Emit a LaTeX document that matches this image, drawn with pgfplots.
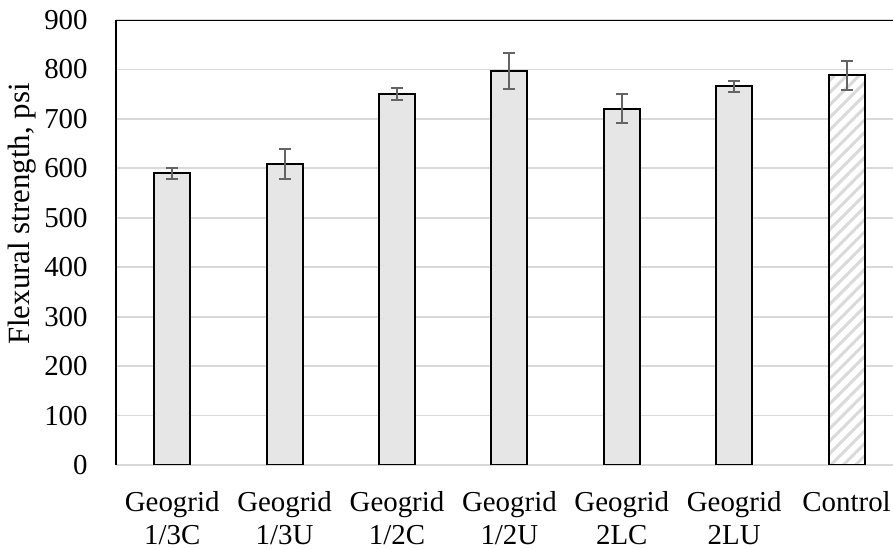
\documentclass[border=0pt]{standalone}
\usepackage{fontspec}
\setmainfont{Liberation Serif}
\usepackage{pgfplots}
\pgfplotsset{compat=1.18}
\usetikzlibrary{patterns.meta}
\definecolor{barfill}{RGB}{230,230,230}
\definecolor{gridc}{RGB}{217,217,217}
\definecolor{errc}{RGB}{100,100,100}
\definecolor{hatchc}{RGB}{218,218,218}
\begin{document}
\begin{tikzpicture}
\useasboundingbox (0,0) rectangle (446.5bp,274.5bp);
\begin{axis}[
  at={(58bp,42bp)}, anchor=south west,
  width=388.5bp, height=222.5bp, scale only axis,
  xmin=-0.5, xmax=6.413, ymin=0, ymax=900,
  ybar, bar width=18bp, bar shift=0pt,
  axis x line*=bottom, axis y line*=left,
  x axis line style={draw=gridc, line width=0.9bp, -},
  y axis line style={draw=black, line width=1bp, -},
  ytick distance=100,
  xtick={0,1,2,3,4,5,6},
  xticklabels={{Geogrid\\1/3C},{Geogrid\\1/3U},{Geogrid\\1/2C},{Geogrid\\1/2U},{Geogrid\\2LC},{Geogrid\\2LU},{Control}},
  major tick length=0pt,
  ymajorgrids, grid style={draw=gridc, line width=0.9bp},
  /pgf/number format/assume math mode=true,
  tick label style={font=\fontsize{14.5}{16.5}\selectfont},
  yticklabel style={inner sep=0pt, xshift=-14bp},
  xticklabel style={align=center, inner sep=0pt, anchor=north, yshift=-13bp},
  ylabel={Flexural strength, psi},
  ylabel style={font=\fontsize{15.5}{17}\selectfont, at={([xshift=-47bp]rel axis cs:0,0.564)}, anchor=center},
  error bars/y dir=both, error bars/y explicit,
  error bars/error bar style={color=errc, line width=1bp},
  error bars/error mark options={rotate=90, mark size=3bp, line width=1bp, color=errc},
]
\addplot[draw=black, line width=1bp, fill=barfill] coordinates {
  (0,590) +- (0,11)
  (1,609) +- (0,30)
  (2,750) +- (0,12.5)
  (3,797) +- (0,37)
  (4,721) +- (0,30)
  (5,766) +- (0,11)
};
\addplot[draw=black, line width=1bp, fill=white, postaction={pattern={Lines[angle=45,distance=4.4bp,line width=1.5bp]}, pattern color=hatchc}] coordinates {
  (6,788) +- (0,29)
};
\draw[black, line width=1bp] (rel axis cs:0,1) -- (rel axis cs:1,1);
\end{axis}
\end{tikzpicture}
\end{document}
